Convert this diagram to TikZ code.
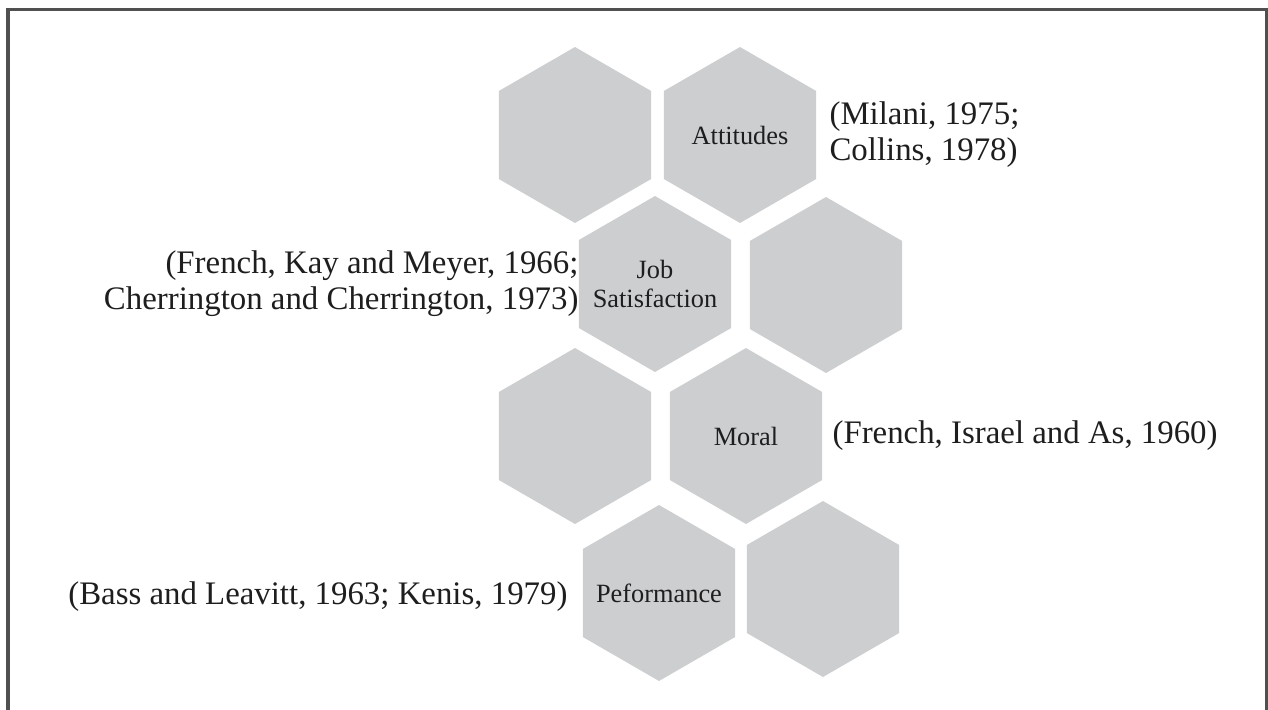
\documentclass[tikz,border=0pt]{standalone}
\usepackage{fontspec}
\setmainfont{Liberation Serif}
\usetikzlibrary{shapes.geometric,positioning}
\definecolor{hexgray}{RGB}{205,206,208}
\definecolor{framegray}{RGB}{80,80,80}
\definecolor{inkgray}{RGB}{30,30,30}

\begin{document}
\begin{tikzpicture}[x=0.02cm, y=-0.02cm,
    hexa/.style={regular polygon, regular polygon sides=6, regular polygon rotate=30, minimum size=3.52cm, inner sep=0pt, outer sep=0pt, fill=hexgray},
    hextext/.style={label={[text=inkgray, align=center, font=\fontsize{15}{17}\selectfont]center:#1}},
    cite/.style={inner sep=0pt, text=inkgray, font=\fontsize{18.7}{20.5}\selectfont}]
    \useasboundingbox (0,0) rectangle (1268,710);

    % Frame
    \draw [framegray, line width=0.08cm] (8,710) -- (8,9.5) -- (1267,9.5) -- (1267,710);

    % Hexagons
    \node [hexa] (blankA) at (575,135) {};
    \node [hexa, hextext=Attitudes] (attitudes) at (740,135) {};
    \node [hexa, hextext={Job\\Satisfaction}] (jobsat) at (655,284) {};
    \node [hexa] (blankB) at (826,285) {};
    \node [hexa] (blankC) at (575,436) {};
    \node [hexa, hextext=Moral] (moral) at (746,436) {};
    \node [hexa, hextext=Peformance] (perf) at (659,593) {};
    \node [hexa] (blankD) at (823,589) {};

    % Citations
    \node [cite, align=left, right=0.26cm of attitudes] (milani) {(Milani, 1975;\\Collins, 1978)};
    \node [cite, align=right, left=0cm of jobsat] (frenchkay) {(French, Kay and Meyer, 1966;\\Cherrington and Cherrington, 1973)};
    \node [cite, right=0.2cm of moral] (israel) {(French, Israel and As, 1960)};
    \node [cite, left=0.3cm of perf, yshift=-0.08cm] (bass) {(Bass and Leavitt, 1963; Kenis, 1979)};
\end{tikzpicture}
\end{document}
